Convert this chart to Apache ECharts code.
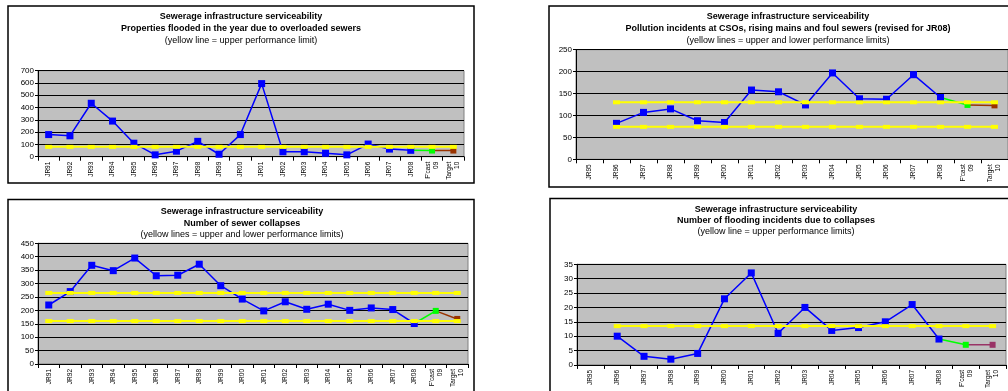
<!DOCTYPE html>
<html>
<head>
<meta charset="utf-8">
<script src="https://cdn.jsdelivr.net/npm/echarts@6/dist/echarts.min.js"></script>
<style>
  html, body { margin: 0; padding: 0; background: #ffffff; overflow: hidden; }
  #chart { width: 1008px; height: 391px; }
</style>
</head>
<body>
<div id="chart"></div>
<script>
// Report years and the two outlook columns
const yearsFrom91 = ['JR91','JR92','JR93','JR94','JR95','JR96','JR97','JR98','JR99','JR00','JR01','JR02','JR03','JR04','JR05','JR06','JR07','JR08'];
const yearsFrom95 = ['JR95','JR96','JR97','JR98','JR99','JR00','JR01','JR02','JR03','JR04','JR05','JR06','JR07','JR08'];
const outlookLabels = ["F'cast\n09", "Target\n10"];

// Properties flooded in the year due to overloaded sewers
const floodedActual = [180, 170, 435, 290, 110, 15, 45, 125, 20, 180, 595, 40, 40, 28, 15, 103, 62, 52];
const floodedForecast = 50;
const floodedTarget = 50;
const floodedUpper = [80, 80, 80, 80, 80, 80, 80, 80, 80, 80, 80, 80, 80, 80, 80, 80, 80, 80, 80, 80];
const floodedTicks = { max: 700, step: 100 };

// Pollution incidents at CSOs, rising mains and foul sewers
const pollutionActual = [null, 82, 107, 115, 88, 84, 158, 154, 124, 197, 138, 137, 193, 141];
const pollutionForecast = 124;
const pollutionTarget = 123;
const pollutionUpper = [null, 130, 130, 130, 130, 130, 130, 130, 130, 130, 130, 130, 130, 130, 130, 130];
const pollutionLower = [null, 74, 74, 74, 74, 74, 74, 74, 74, 74, 74, 74, 74, 74, 74, 74];
const pollutionTicks = { max: 250, step: 50 };

// Number of sewer collapses
const collapsesActual = [220, 270, 368, 348, 395, 329, 331, 372, 292, 242, 198, 232, 204, 223, 200, 209, 203, 151];
const collapsesForecast = 198;
const collapsesTarget = 168;
const collapsesUpper = [265, 265, 265, 265, 265, 265, 265, 265, 265, 265, 265, 265, 265, 265, 265, 265, 265, 265, 265, 265];
const collapsesLower = [160, 160, 160, 160, 160, 160, 160, 160, 160, 160, 160, 160, 160, 160, 160, 160, 160, 160, 160, 160];
const collapsesTicks = { max: 450, step: 50 };

// Number of flooding incidents due to collapses
const collapseFloodActual = [null, 10, 3, 2, 4, 23, 32, 11, 20, 12, 13, 15, 21, 9];
const collapseFloodForecast = 7;
const collapseFloodTarget = 7;
const collapseFloodUpper = [null, 13.5, 13.5, 13.5, 13.5, 13.5, 13.5, 13.5, 13.5, 13.5, 13.5, 13.5, 13.5, 13.5, 13.5, 13.5];
const collapseFloodTicks = { max: 35, step: 5 };

const FONT = '"Liberation Sans", Arial, sans-serif';
const BLUE = '#0000FF', GREEN = '#00FF00', YELLOW = '#FFFF00';

const panels = [
  {
    titles: ['Sewerage infrastructure serviceability', 'Properties flooded in the year due to overloaded sewers', '(yellow line = upper performance limit)'],
    titleX: 241, titleY: [17, 29, 41],
    box: { x: 8, y: 6, w: 466, h: 177 },
    grid: { left: 38, top: 70.7, width: 426, height: 86 },
    years: yearsFrom91, actual: floodedActual, forecast: floodedForecast, target: floodedTarget,
    limits: [floodedUpper], ticks: floodedTicks, targetColor: '#993300'
  },
  {
    titles: ['Sewerage infrastructure serviceability', 'Pollution incidents at CSOs, rising mains and foul sewers (revised for JR08)', '(yellow lines = upper and lower performance limits)'],
    titleX: 788, titleY: [17, 29, 41],
    box: { x: 549, y: 6, w: 480, h: 181 },
    grid: { left: 576, top: 49.7, width: 437, height: 109.6 },
    years: yearsFrom95, actual: pollutionActual, forecast: pollutionForecast, target: pollutionTarget,
    limits: [pollutionUpper, pollutionLower], ticks: pollutionTicks, targetColor: '#993300'
  },
  {
    titles: ['Sewerage infrastructure serviceability', 'Number of sewer collapses', '(yellow lines = upper and lower performance limits)'],
    titleX: 242, titleY: [212, 223.5, 235],
    box: { x: 8, y: 199.5, w: 466, h: 210 },
    grid: { left: 38, top: 243.3, width: 430, height: 120.7 },
    years: yearsFrom91, actual: collapsesActual, forecast: collapsesForecast, target: collapsesTarget,
    limits: [collapsesUpper, collapsesLower], ticks: collapsesTicks, targetColor: '#993300'
  },
  {
    titles: ['Sewerage infrastructure serviceability', 'Number of flooding incidents due to collapses', '(yellow line = upper performance limits)'],
    titleX: 776, titleY: [210, 221, 232],
    box: { x: 550, y: 198.5, w: 480, h: 210 },
    grid: { left: 577, top: 264.3, width: 429, height: 101.4 },
    years: yearsFrom95, actual: collapseFloodActual, forecast: collapseFloodForecast, target: collapseFloodTarget,
    limits: [collapseFloodUpper], ticks: collapseFloodTicks, targetColor: '#993366'
  }
];

const grids = [], xAxes = [], yAxes = [], series = [], graphics = [];

panels.forEach((p, i) => {
  const cats = p.years.concat(outlookLabels);
  const last = p.years.length - 1;

  graphics.push({
    type: 'rect', z: 100,
    shape: { x: p.box.x, y: p.box.y, width: p.box.w, height: p.box.h },
    style: { fill: null, stroke: '#000000', lineWidth: 1.5 }
  });
  p.titles.forEach((t, k) => {
    graphics.push({
      type: 'text', z: 100,
      style: {
        text: t, x: p.titleX, y: p.titleY[k],
        textAlign: 'center', textVerticalAlign: 'middle',
        font: (k < 2 ? 'bold ' : '') + '9px ' + FONT, fill: '#000000'
      }
    });
  });

  grids.push(Object.assign({
    show: true, backgroundColor: '#C0C0C0', borderColor: '#808080', borderWidth: 1,
    containLabel: false
  }, p.grid));

  xAxes.push({
    type: 'category', gridIndex: i, data: cats, boundaryGap: true,
    axisLine: { show: true, lineStyle: { color: '#000000', width: 1 } },
    axisTick: { show: true, interval: 0, length: 4, lineStyle: { color: '#000000' } },
    axisLabel: {
      interval: 0, rotate: 90, fontSize: 6.5, fontFamily: FONT, color: '#000000',
      margin: 5, lineHeight: 8
    },
    splitLine: { show: false }
  });

  yAxes.push({
    type: 'value', gridIndex: i, min: 0, max: p.ticks.max, interval: p.ticks.step,
    axisLine: { show: true, lineStyle: { color: '#000000', width: 1 } },
    axisTick: { show: true, length: 3, lineStyle: { color: '#000000' } },
    axisLabel: { fontSize: 8, fontFamily: FONT, color: '#000000', margin: 4 },
    splitLine: { show: true, lineStyle: { color: '#000000', width: 1 } }
  });

  // measured values
  series.push({
    type: 'line', xAxisIndex: i, yAxisIndex: i, z: 2,
    data: p.actual.concat([null, null]),
    symbol: 'rect', symbolSize: 7, connectNulls: false,
    lineStyle: { color: BLUE, width: 1.5 },
    itemStyle: { color: BLUE },
    silent: true, animation: false
  });
  // last measured year to forecast
  series.push({
    type: 'line', xAxisIndex: i, yAxisIndex: i, z: 2,
    data: cats.map((_, j) => j === last ? { value: p.actual[last], symbol: 'none' } : (j === last + 1 ? p.forecast : null)),
    symbol: 'rect', symbolSize: 6,
    lineStyle: { color: GREEN, width: 1.5 },
    itemStyle: { color: GREEN },
    silent: true, animation: false
  });
  // forecast to target
  series.push({
    type: 'line', xAxisIndex: i, yAxisIndex: i, z: 2,
    data: cats.map((_, j) => j === last + 1 ? { value: p.forecast, symbol: 'none' } : (j === last + 2 ? p.target : null)),
    symbol: 'rect', symbolSize: 6,
    lineStyle: { color: p.targetColor, width: 1.5 },
    itemStyle: { color: p.targetColor },
    silent: true, animation: false
  });
  // performance limits
  p.limits.forEach(lim => {
    series.push({
      type: 'line', xAxisIndex: i, yAxisIndex: i, z: 3,
      data: lim,
      symbol: 'rect', symbolSize: [7, 4],
      lineStyle: { color: YELLOW, width: 2 },
      itemStyle: { color: YELLOW },
      silent: true, animation: false
    });
  });
});

const chart = echarts.init(document.getElementById('chart'), null, { renderer: 'canvas' });
chart.setOption({
  backgroundColor: '#ffffff',
  animation: false,
  grid: grids,
  xAxis: xAxes,
  yAxis: yAxes,
  series: series,
  graphic: graphics
});
</script>
</body>
</html>
